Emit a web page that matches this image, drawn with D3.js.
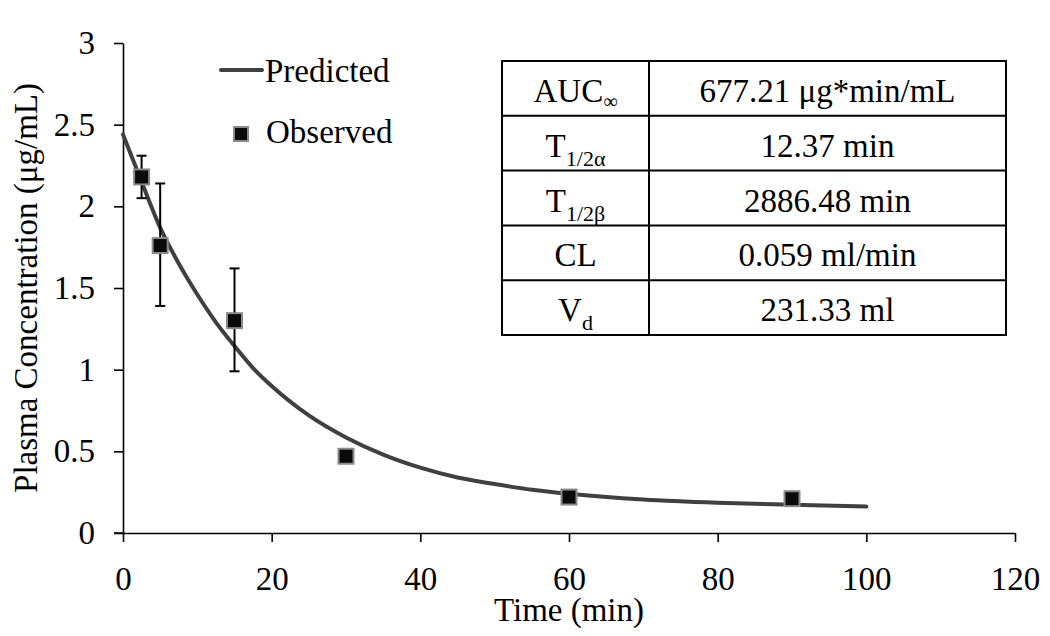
<!DOCTYPE html>
<html><head><meta charset="utf-8">
<script src="https://cdn.jsdelivr.net/npm/d3@7"></script>
<style>
html,body{margin:0;padding:0;background:#fff;}
svg{display:block;font-family:"Liberation Serif","Times New Roman",serif;}
</style></head>
<body>
<svg id="chart" width="1050" height="636"></svg>
<script>
// Observed data
const obsTime = [2.5, 5, 15, 30, 60, 90];
const obsConc = [2.18, 1.76, 1.30, 0.47, 0.22, 0.21];
const obsErrHigh = [2.31, 2.14, 1.62, null, null, null];
const obsErrLow  = [2.05, 1.39, 0.99, null, null, null];
// Predicted curve
const predTime = [0, 2.5, 5, 7.5, 10, 12.5, 15, 17.5, 20, 25, 30, 35, 40, 45, 50, 55, 60, 70, 80, 90, 100];
const predConc = [2.44, 2.15, 1.87, 1.65, 1.46, 1.29, 1.145, 1.01, 0.90, 0.72, 0.585, 0.48, 0.40, 0.34, 0.30, 0.265, 0.24, 0.205, 0.185, 0.173, 0.163];
const xTicks = [0, 20, 40, 60, 80, 100, 120];
const yTicks = [0, 0.5, 1, 1.5, 2, 2.5, 3];
const yTickLabels = ["0", "0.5", "1", "1.5", "2", "2.5", "3"];
const legendLabels = ["Predicted", "Observed"];
const tableParams = [["AUC", "∞"], ["T", "1/2α"], ["T", "1/2β"], ["CL", ""], ["V", "d"]];
const tableValues = ["677.21 μg*min/mL", "12.37 min", "2886.48 min", "0.059 ml/min", "231.33 ml"];
const xTitle = "Time (min)";
const yTitle = "Plasma Concentration (μg/mL)";

const svg = d3.select("#chart");
const x = d3.scaleLinear().domain([0, 120]).range([123, 1015]);
const y = d3.scaleLinear().domain([0, 3]).range([533, 43]);
const fs = 33;

// Axes
const xAxis = svg.append("g").attr("transform", `translate(0,${y(0)})`)
  .call(d3.axisBottom(x).tickValues(xTicks).tickSize(9).tickSizeOuter(0).tickPadding(25));
const yAxis = svg.append("g").attr("transform", `translate(${x(0)},0)`)
  .call(d3.axisLeft(y).tickValues(yTicks).tickFormat((d,i)=>yTickLabels[i]).tickSize(9).tickSizeOuter(0).tickPadding(19));
[xAxis, yAxis].forEach(a => {
  a.selectAll("path,line").attr("stroke", "#000").attr("stroke-width", 1.6);
  a.selectAll("text").attr("font-size", fs).attr("fill", "#000").attr("font-family", "Liberation Serif");
});
svg.append("line").attr("x1", x(0) - 9).attr("x2", x(0)).attr("y1", y(0)).attr("y2", y(0)).attr("stroke", "#000").attr("stroke-width", 1.6);

// Axis titles
svg.append("text").attr("x", (x(0)+x(120))/2).attr("y", 621).attr("text-anchor", "middle")
  .attr("font-size", fs).text(xTitle);
svg.append("text").attr("transform", `translate(37,${(y(0)+y(3))/2}) rotate(-90)`).attr("text-anchor", "middle")
  .attr("font-size", fs).text(yTitle);

// Predicted curve
const line = d3.line().x((d,i)=>x(predTime[i])).y((d,i)=>y(predConc[i])).curve(d3.curveMonotoneX);
svg.append("path").datum(predConc).attr("d", line).attr("fill", "none")
  .attr("stroke", "#404040").attr("stroke-width", 4).attr("stroke-linecap", "round");

// Error bars
const eb = obsTime.map((t,i)=>({t, hi: obsErrHigh[i], lo: obsErrLow[i]})).filter(d=>d.hi!=null);
const ebG = svg.append("g").attr("stroke", "#000").attr("stroke-width", 2);
eb.forEach(d => {
  ebG.append("line").attr("x1", x(d.t)).attr("x2", x(d.t)).attr("y1", y(d.hi)).attr("y2", y(d.lo));
  ebG.append("line").attr("x1", x(d.t)-5).attr("x2", x(d.t)+5).attr("y1", y(d.hi)).attr("y2", y(d.hi));
  ebG.append("line").attr("x1", x(d.t)-5).attr("x2", x(d.t)+5).attr("y1", y(d.lo)).attr("y2", y(d.lo));
});

// Observed markers
const ms = 15;
svg.append("g").selectAll("rect").data(obsConc).join("rect")
  .attr("x", (d,i)=>x(obsTime[i]) - ms/2).attr("y", d=>y(d) - ms/2)
  .attr("width", ms).attr("height", ms)
  .attr("fill", "#0a0a0a").attr("stroke", "#8a8a8a").attr("stroke-width", 2);

// Legend
const lg = svg.append("g");
lg.append("line").attr("x1", 221).attr("x2", 262).attr("y1", 70).attr("y2", 70)
  .attr("stroke", "#404040").attr("stroke-width", 4).attr("stroke-linecap", "round");
lg.append("text").attr("x", 265).attr("y", 82).attr("font-size", fs).text(legendLabels[0]);
lg.append("rect").attr("x", 234).attr("y", 127).attr("width", 14).attr("height", 14)
  .attr("fill", "#0a0a0a").attr("stroke", "#8a8a8a").attr("stroke-width", 2);
lg.append("text").attr("x", 266).attr("y", 143).attr("font-size", fs).text(legendLabels[1]);

// Table
const tx0 = 502, tx1 = 649, tx2 = 1006, ty0 = 61, rowH = 54.8;
const tg = svg.append("g");
tg.append("rect").attr("x", tx0).attr("y", ty0).attr("width", tx2 - tx0).attr("height", rowH * tableValues.length)
  .attr("fill", "#fff").attr("stroke", "#000").attr("stroke-width", 2);
tg.append("line").attr("x1", tx1).attr("x2", tx1).attr("y1", ty0).attr("y2", ty0 + rowH * tableValues.length)
  .attr("stroke", "#000").attr("stroke-width", 2);
tableValues.forEach((v, i) => {
  const yy = ty0 + rowH * i;
  if (i > 0) tg.append("line").attr("x1", tx0).attr("x2", tx2).attr("y1", yy).attr("y2", yy)
    .attr("stroke", "#000").attr("stroke-width", 2);
  const p = tableParams[i];
  const t = tg.append("text").attr("x", (tx0 + tx1)/2).attr("y", yy + 41).attr("text-anchor", "middle").attr("font-size", fs);
  t.append("tspan").text(p[0]);
  if (p[1]) {
    const small = p[1] === "∞" ? 20 : 22;
    t.append("tspan").attr("font-size", small).attr("dy", p[1] === "∞" ? 6 : 9).text(p[1]);
  }
  tg.append("text").attr("x", (tx1 + tx2)/2).attr("y", yy + 41).attr("text-anchor", "middle").attr("font-size", fs).text(v);
});
</script>
</body></html>
